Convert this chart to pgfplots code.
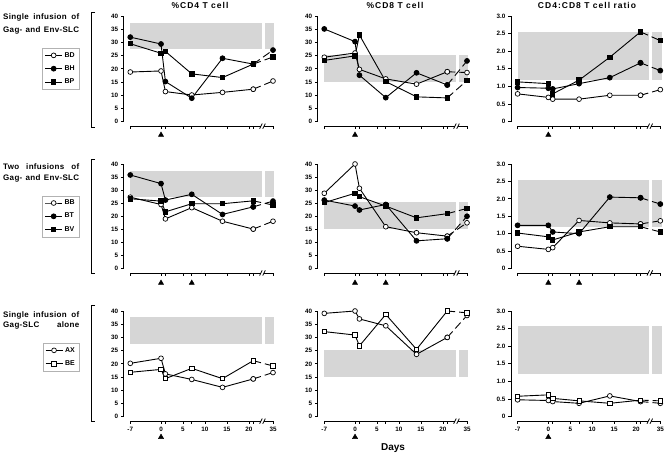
\documentclass[border=0pt]{standalone}
\usepackage{fontspec}
\setmainfont{Liberation Sans}
\newfontfamily\spaced{Liberation Sans}[LetterSpace=12]
\newfontfamily\lspaced{Liberation Sans}[LetterSpace=4]
\usepackage{pgfplots}
\usepackage{pgfplotstable}
\pgfplotsset{compat=1.18}

% ---------- data (day 35 is drawn after the axis break) ----------
\pgfplotstableread{
day BD BH BP
-7 18.8 32.0 29.5
0 19.2 29.4 25.9
1 11.4 15.2 26.6
7 10.1 8.9 18.1
14 11.1 24.0 16.7
21 12.3 21.8 21.8
35 15.4 27.1 24.5
}\cdA
\pgfplotstableread{
day BD BH BP
-7 24.4 35.1 23.2
0 26.0 30.3 24.9
1 19.8 17.6 32.8
7 16.2 9.1 15.2
14 14.2 18.5 9.4
21 18.9 13.9 9.0
35 18.6 23.0 15.6
}\cdB
\pgfplotstableread{
day BD BH BP
-7 0.79 0.97 1.13
0 0.69 0.95 1.08
1 0.64 0.93 0.79
7 0.64 1.08 1.18
14 0.75 1.25 1.83
21 0.75 1.67 2.55
35 0.91 1.45 2.30
}\cdC
\pgfplotstableread{
day BB BT BV
-7 27.3 35.8 26.7
0 24.5 32.5 25.8
1 19.0 26.2 21.7
7 23.3 28.4 24.8
14 18.1 20.7 24.8
21 15.1 23.6 25.9
35 18.1 25.8 24.3
}\cdD
\pgfplotstableread{
day BB BT BV
-7 28.8 26.2 25.2
0 40.0 23.9 28.8
1 30.7 22.4 27.5
7 16.0 24.5 23.9
14 13.7 10.6 19.4
21 12.4 11.4 21.0
35 17.5 20.0 23.0
}\cdE
\pgfplotstableread{
day BB BT BV
-7 0.64 1.24 1.02
0 0.55 1.24 0.91
1 0.60 1.05 0.82
7 1.38 1.00 1.05
14 1.31 2.05 1.20
21 1.28 2.03 1.20
35 1.37 1.85 1.05
}\cdF
\pgfplotstableread{
day AX BE
-7 20.2 16.8
0 22.1 17.9
1 16.2 14.4
7 14.1 18.3
14 11.1 14.4
21 14.3 21.2
35 16.7 19.2
}\cdG
\pgfplotstableread{
day AX BE
-7 39.1 32.2
0 40.0 30.9
1 37.0 26.8
7 34.4 38.7
14 23.6 25.5
21 30.0 40.0
35 38.3 39.3
}\cdH
\pgfplotstableread{
day AX BE
-7 0.48 0.58
0 0.46 0.62
1 0.43 0.52
7 0.38 0.45
14 0.59 0.38
21 0.43 0.47
35 0.38 0.45
}\cdI

\tikzset{axl/.style={black, line width=0.8pt}}
\pgfplotsset{
  panel/.style={scale only axis, width=151.5pt, xmin=-8.5, xmax=26,
    axis lines=left, axis line style={draw=none}, tick align=outside,
    major tick length=2.6pt, tick style={black, line width=0.7pt},
    xtick={-7,0,5,10,15,20,25.5},
    extra x ticks={1,7,21}, extra x tick labels={},
    extra x tick style={tick style={black, line width=0.7pt}},
    x filter/.expression={x>30 ? x-9.5 : x},
    clip=false,
    tick label style={font=\bfseries\fontsize{6.3}{7}\selectfont},
    yticklabel style={xshift=0.5pt},
    legend style={at={(-0.295,0.71)}, anchor=north east, draw=gray!60, line width=0.5pt,
      font=\bfseries\fontsize{7}{8}\selectfont, inner xsep=2pt, inner ysep=2pt, row sep=3pt,
      cells={anchor=west}},
    legend cell align=left},
  cd/.style={ymin=-1.7, ymax=40, ytick={0,5,10,15,20,25,30,35,40},
    yticklabels={0,5,10,15,20,25,30,35,40}},
  rt/.style={ymin=-0.1275, ymax=3, ytick={0,0.5,1,1.5,2,2.5,3},
    yticklabels={0,0.5,1.0,1.5,2.0,2.5,3.0}},
  nolab/.style={xticklabels={}},
  lab/.style={xticklabels={-7,0,5,10,15,20,35}},
  base/.style={black, line width=0.9pt, mark size=2.4pt},
  oc/.style={base, mark=*, mark options={solid, fill=white, line width=0.7pt}},
  fc/.style={base, mark=*, mark options={solid, fill=black}},
  fs/.style={base, mark=square*, mark size=2.2pt, mark options={solid, fill=black}},
  os/.style={base, mark=square*, mark size=2.2pt, mark options={solid, fill=white, line width=0.7pt}},
}
\newcommand\ser[3]{%
  \addplot[#3, dash pattern=on 8pt off 4pt, skip coords between index={0}{5}, forget plot] table[x=day,y=#2]{#1};
  \addplot[#3, skip coords between index={6}{7}] table[x=day,y=#2]{#1};}
\newcommand\band[2]{%
  \addplot[fill=black!16, draw=none, mark=none, forget plot] coordinates {(-7,#1)(23,#1)(23,#2)(-7,#2)};
  \addplot[fill=black!16, draw=none, mark=none, forget plot] coordinates {(23.6,#1)(25.8,#1)(25.8,#2)(23.6,#2)};}
\newcommand\axlines{%
  \edef\ymn{\pgfkeysvalueof{/pgfplots/ymin}}%
  \edef\ymx{\pgfkeysvalueof{/pgfplots/ymax}}%
  \draw[axl] (axis cs:-8.5,0) -- (axis cs:-8.5,\ymx);
  \draw[axl] (axis cs:-7,\ymn) -- (axis cs:22.75,\ymn);
  \draw[axl] (axis cs:23.45,\ymn) -- (axis cs:25.5,\ymn);
  \draw[axl] ([xshift=-1.3pt,yshift=-2.6pt]axis cs:22.75,\ymn) -- ++(2.6pt,5.2pt);
  \draw[axl] ([xshift=-1.3pt,yshift=-2.6pt]axis cs:23.45,\ymn) -- ++(2.6pt,5.2pt);}
\newcommand\arrows[1]{\addplot[only marks, mark=triangle*, mark size=3pt, black, forget plot] coordinates {#1};}

\begin{document}
\begin{tikzpicture}
\path[use as bounding box] (0pt,0pt) rectangle (664pt,454pt);

% titles
\node[font=\spaced\bfseries\fontsize{8.5}{10}\selectfont] at (200pt,449pt) {\%CD4 T cell};
\node[font=\spaced\bfseries\fontsize{8.5}{10}\selectfont] at (395pt,449pt) {\%CD8 T cell};
\node[font=\spaced\bfseries\fontsize{8.5}{10}\selectfont] at (587pt,449pt) {CD4:CD8 T cell ratio};
\node[font=\bfseries\fontsize{10}{12}\selectfont] at (393pt,6pt) {Days};

% row labels
\begin{scope}[every node/.style={font=\lspaced\bfseries\fontsize{8}{9}\selectfont, anchor=west, inner sep=0pt}]
\node at (3pt,437pt) {\makebox[76pt][s]{Single infusion of}};
\node at (3pt,424pt) {\makebox[76pt][s]{Gag- and Env-SLC}};
\node at (3pt,287.3pt) {\makebox[76pt][s]{Two infusions of}};
\node at (3pt,276pt) {\makebox[76pt][s]{Gag- and Env-SLC}};
\node at (3pt,139pt) {\makebox[76pt][s]{Single infusion of}};
\node at (3pt,128.3pt) {\makebox[76pt][s]{Gag-SLC alone}};
\end{scope}
% brackets
\draw[line width=0.8pt] (95pt,442pt) -- (91pt,442pt) -- (91pt,327pt) -- (95pt,327pt);
\draw[line width=0.8pt] (95pt,294.7pt) -- (91pt,294.7pt) -- (91pt,180.7pt) -- (95pt,180.7pt);
\draw[line width=0.8pt] (95pt,149pt) -- (91pt,149pt) -- (91pt,32.3pt) -- (95pt,32.3pt);

% ---------------- row 1 ----------------
\begin{axis}[panel, cd, nolab, height=110.2pt, at={(123.7pt,327.8pt)}, anchor=south west]
\band{27.5}{37.5}
\ser{\cdA}{BD}{oc}
\ser{\cdA}{BH}{fc}
\ser{\cdA}{BP}{fs}
\arrows{(0,-5)}
\axlines
\legend{BD,BH,BP}
\end{axis}
\begin{axis}[panel, cd, nolab, height=110.2pt, at={(317.7pt,327.8pt)}, anchor=south west]
\band{15}{25.2}
\ser{\cdB}{BD}{oc}
\ser{\cdB}{BH}{fc}
\ser{\cdB}{BP}{fs}
\arrows{(0,-5)}
\axlines
\end{axis}
\begin{axis}[panel, rt, nolab, height=110.2pt, at={(511pt,327.8pt)}, anchor=south west]
\band{1.18}{2.55}
\ser{\cdC}{BD}{oc}
\ser{\cdC}{BH}{fc}
\ser{\cdC}{BP}{fs}
\arrows{(0,-0.375)}
\axlines
\end{axis}

% ---------------- row 2 ----------------
\begin{axis}[panel, cd, nolab, height=109pt, at={(123.7pt,181pt)}, anchor=south west]
\band{27.2}{37.4}
\ser{\cdD}{BB}{oc}
\ser{\cdD}{BT}{fc}
\ser{\cdD}{BV}{fs}
\arrows{(0,-5.5) (7,-5.5)}
\axlines
\legend{BB,BT,BV}
\end{axis}
\begin{axis}[panel, cd, nolab, height=109pt, at={(317.7pt,181pt)}, anchor=south west]
\band{15.2}{25.5}
\ser{\cdE}{BB}{oc}
\ser{\cdE}{BT}{fc}
\ser{\cdE}{BV}{fs}
\arrows{(0,-5.5) (7,-5.5)}
\axlines
\end{axis}
\begin{axis}[panel, rt, nolab, height=109pt, at={(511pt,181pt)}, anchor=south west]
\band{1.18}{2.55}
\ser{\cdF}{BB}{oc}
\ser{\cdF}{BT}{fc}
\ser{\cdF}{BV}{fs}
\arrows{(0,-0.41) (7,-0.41)}
\axlines
\end{axis}

% ---------------- row 3 ----------------
\begin{axis}[panel, cd, lab, height=110.2pt, at={(123.7pt,32.8pt)}, anchor=south west]
\band{27.5}{37.6}
\ser{\cdG}{AX}{oc}
\ser{\cdG}{BE}{os}
\arrows{(0,-7.7)}
\axlines
\legend{AX,BE}
\end{axis}
\begin{axis}[panel, cd, lab, height=110.2pt, at={(317.7pt,32.8pt)}, anchor=south west]
\band{14.9}{25.2}
\ser{\cdH}{AX}{oc}
\ser{\cdH}{BE}{os}
\arrows{(0,-7.7)}
\axlines
\end{axis}
\begin{axis}[panel, rt, lab, height=110.2pt, at={(511pt,32.8pt)}, anchor=south west]
\band{1.2}{2.57}
\ser{\cdI}{AX}{oc}
\ser{\cdI}{BE}{os}
\arrows{(0,-0.58)}
\axlines
\end{axis}
\end{tikzpicture}
\end{document}
